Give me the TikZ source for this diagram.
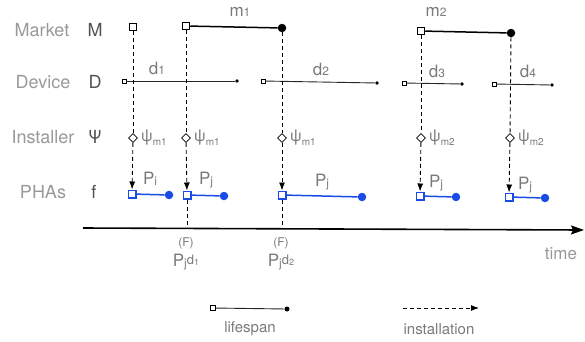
\documentclass[tikz,border=0pt]{standalone}
\usepackage{fontspec}
\setmainfont{TeX Gyre Heros}
\usetikzlibrary{shapes.geometric,arrows.meta}
\definecolor{phablue}{RGB}{25,75,230}
\definecolor{lbl}{gray}{0.6}
\definecolor{lbldark}{gray}{0.32}
\definecolor{tlbl}{gray}{0.48}
\newcommand{\smx}[1]{{\fontsize{12}{12}\selectfont #1}}
\newcommand{\lowx}[1]{\raisebox{-1.5pt}{\fontsize{12}{12}\selectfont #1}}
\newcommand{\psisub}[1]{ψ\raisebox{-4pt}{\fontsize{10}{10}\selectfont #1}}
\begin{document}
\begin{tikzpicture}[x=1pt,y=-1pt,
  rowlbl/.style={text=lbl,font=\fontsize{18}{18}\selectfont,inner sep=0},
  rowsym/.style={text=lbldark,font=\fontsize{18}{18}\selectfont,inner sep=0},
  tlabel/.style={text=tlbl,font=\fontsize{17}{17}\selectfont,inner sep=0},
  psilbl/.style={text=tlbl,font=\fontsize{16}{16}\selectfont,inner sep=0,anchor=west},
  msq/.style={rectangle,draw=black,line width=1.5pt,fill=white,minimum size=7pt,inner sep=0},
  mdot/.style={circle,fill=black,minimum size=8.5pt,inner sep=0},
  dsq/.style={rectangle,draw=black,line width=0.6pt,fill=white,minimum size=4pt,inner sep=0},
  ddot/.style={circle,fill=black,minimum size=3.8pt,inner sep=0},
  psq/.style={rectangle,draw=phablue,line width=1.5pt,fill=white,minimum size=7.5pt,inner sep=0},
  pdot/.style={circle,fill=phablue,minimum size=8.5pt,inner sep=0},
  dia/.style={diamond,draw=black,line width=0.8pt,fill=white,minimum size=9pt,inner sep=0},
  mline/.style={line width=1.5pt,black},
  dline/.style={line width=0.9pt,black!85},
  pline/.style={line width=1.5pt,phablue},
  inst/.style={dashed,dash pattern=on 4pt off 3pt,line width=0.9pt,black},
  insta/.style={inst,-{Latex[length=8pt,width=6pt]}}
]
\useasboundingbox (0,0) rectangle (585,341);

% row labels
\node[rowlbl] (lM) at (42,30) {Market};
\node[rowsym] (sM) at (95,30) {M};
\node[rowlbl] (lD) at (43,82) {Device};
\node[rowsym] (sD) at (95,82) {D};
\node[rowlbl] (lI) at (43,137) {Installer};
\node[rowsym] (sI) at (95,137) {Ψ};
\node[rowlbl] (lP) at (43,192) {PHAs};
\node[rowsym] (sP) at (94,192) {f};

% time axis
\coordinate (ax0) at (83,228);
\coordinate (ax1) at (584,230);
\draw[line width=1.6pt,-{Stealth[length=13pt,width=9pt,inset=2pt]}] (ax0) -- (ax1);
\node[text=lbl,font=\fontsize{17}{17}\selectfont,inner sep=0] (time) at (561,254) {time};

% market
\node[msq] (m0) at (133,27) {};
\node[msq] (m1a) at (186,26) {};
\node[mdot] (m1b) at (282,28) {};
\node[msq] (m2a) at (421,31) {};
\node[mdot] (m2b) at (511,33) {};
\draw[mline] (m1a) -- (m1b);
\draw[mline] (m2a) -- (m2b);
\node[tlabel] (tm1) at (240,12) {m\smx{1}};
\node[tlabel] (tm2) at (436,12) {m\smx{2}};

% device
\node[dsq] (d1a) at (124,81) {};
\node[ddot] (d1b) at (237,81) {};
\node[dsq] (d2a) at (263,81) {};
\node[ddot] (d2b) at (377,83) {};
\node[dsq] (d3a) at (404,83) {};
\node[ddot] (d3b) at (462,84) {};
\node[dsq] (d4a) at (494,84) {};
\node[ddot] (d4b) at (552,85) {};
\draw[dline] (d1a) -- (d1b);
\draw[dline] (d2a) -- (d2b);
\draw[dline] (d3a) -- (d3b);
\draw[dline] (d4a) -- (d4b);
\node[tlabel] (td1) at (157,68) {d\smx{1}};
\node[tlabel] (td2) at (321,69) {d\smx{2}};
\node[tlabel] (td3) at (437,71) {d\smx{3}};
\node[tlabel] (td4) at (528,71) {d\smx{4}};

% installers
\node[dia] (i0) at (133,138) {};
\node[dia] (i1) at (186,138) {};
\node[dia] (i2) at (282,138) {};
\node[dia] (i3) at (421,138) {};
\node[dia] (i4) at (510,138) {};
\node[psilbl] (ti0) at (141,138) {\psisub{m1}};
\node[psilbl] (ti1) at (194,138) {\psisub{m1}};
\node[psilbl] (ti2) at (290,138) {\psisub{m1}};
\node[psilbl] (ti3) at (429,138) {\psisub{m2}};
\node[psilbl] (ti4) at (518,138) {\psisub{m2}};

% PHAs
\node[psq] (p0a) at (132,194) {};
\node[pdot] (p0b) at (169,195) {};
\node[psq] (p1a) at (187,195) {};
\node[pdot] (p1b) at (224,196) {};
\node[psq] (p2a) at (282,195) {};
\node[pdot] (p2b) at (362,197) {};
\node[psq] (p3a) at (420,196) {};
\node[pdot] (p3b) at (456,197) {};
\node[psq] (p4a) at (509,197) {};
\node[pdot] (p4b) at (545,198) {};
\draw[pline] (p0a) -- (p0b);
\draw[pline] (p1a) -- (p1b);
\draw[pline] (p2a) -- (p2b);
\draw[pline] (p3a) -- (p3b);
\draw[pline] (p4a) -- (p4b);
\node[tlabel] (tp0) at (150,179) {P\lowx{i}};
\node[tlabel] (tp1) at (206,180) {P\lowx{j}};
\node[tlabel] (tp2) at (322,182) {P\lowx{j}};
\node[tlabel] (tp3) at (436,183) {P\lowx{j}};
\node[tlabel] (tp4) at (525,185) {P\lowx{j}};

% installation connectors
\draw[inst] (m0) -- (i0);
\draw[inst] (m1a) -- (i1);
\draw[inst] (m1b) -- (i2);
\draw[inst] (m2a) -- (i3);
\draw[inst] (m2b) -- (i4);
\draw[insta] (i0) -- (p0a);
\draw[insta] (i1) -- (p1a);
\draw[insta] (i2) -- (p2a);
\draw[insta] (i3) -- (p3a);
\draw[insta] (i4) -- (p4a);
\coordinate (f1) at (187,228.6);
\coordinate (f2) at (282,229);
\draw[inst] (p1a) -- (f1);
\draw[inst] (p2a) -- (f2);

% failure labels
\node[text=tlbl,font=\fontsize{12}{12}\selectfont,inner sep=0] (F1) at (186,243) {(F)};
\node[tlabel] (pf1) at (186,262) {P\lowx{j}\raisebox{1.5pt}{\fontsize{13}{13}\selectfont d\raisebox{-1pt}{\fontsize{9}{9}\selectfont 1}}};
\node[text=tlbl,font=\fontsize{12}{12}\selectfont,inner sep=0] (F2) at (281,243) {(F)};
\node[tlabel] (pf2) at (281,262) {P\lowx{j}\raisebox{1.5pt}{\fontsize{13}{13}\selectfont d\raisebox{-1pt}{\fontsize{9}{9}\selectfont 2}}};

% legend
\node[dsq,minimum size=5pt] (la) at (213,308) {};
\node[ddot,minimum size=5pt] (lb) at (287,309) {};
\draw[dline] (la) -- (lb);
\node[text=tlbl,font=\fontsize{15}{15}\selectfont,inner sep=0] (tl) at (250,329) {lifespan};
\coordinate (ia) at (403,308);
\coordinate (ib) at (479,308);
\draw[insta] (ia) -- (ib);
\node[text=tlbl,font=\fontsize{15}{15}\selectfont,inner sep=0] (tin) at (439,329) {installation};
\end{tikzpicture}
\end{document}
